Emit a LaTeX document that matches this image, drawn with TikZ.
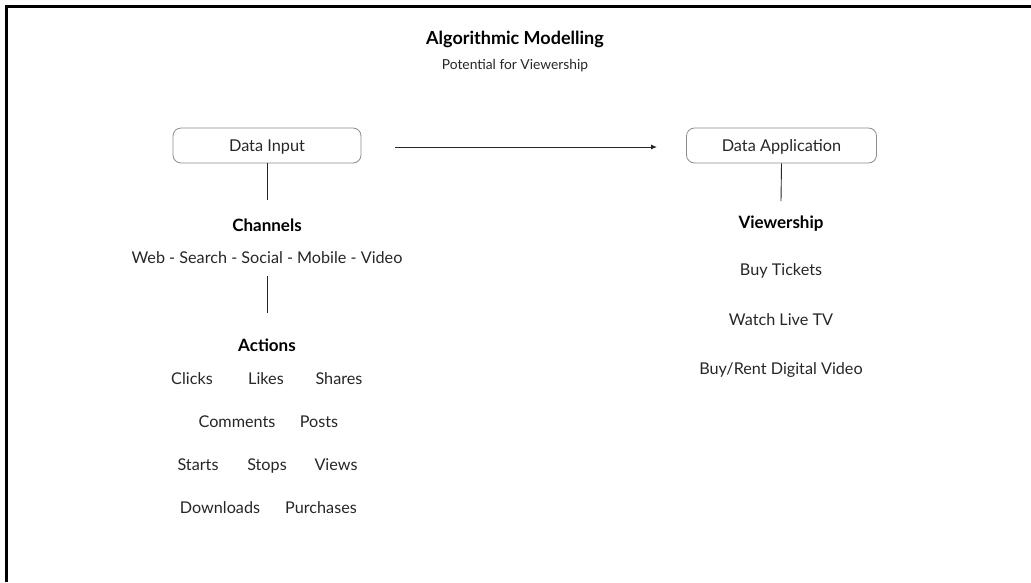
\documentclass[tikz,border=0pt]{standalone}
\usepackage{fontspec}
\setmainfont{Lato}
\usetikzlibrary{arrows.meta}
\tikzset{
  txt/.style={inner sep=0pt, text height=2.2ex, text depth=0.3ex, yshift=-2.5pt},
  box/.style={draw=black!45, line width=0.8pt, rounded corners=8pt, minimum width=188pt, minimum height=35pt, text height=2.4ex, text depth=0.1ex, text=black!85, font=\fontsize{16.3}{18}\selectfont},
  heading/.style={txt, font=\fontsize{17}{19}\selectfont\bfseries},
  item/.style={txt, text=black!85, font=\fontsize{16.2}{18}\selectfont},
  link/.style={draw=black!85, line width=0.9pt},
  frame/.style={line width=3pt, black}
}
\begin{document}
\begin{tikzpicture}[x=1pt,y=-1pt]
\useasboundingbox (0,0) rectangle (1031,582);
% frame on the top and left edges
\draw[frame] (1031,6) -- (6,6) -- (6,582);

% title
\node[txt, font=\fontsize{18}{20}\selectfont\bfseries] (title) at (515,37) {Algorithmic Modelling};
\node[txt, text=black!85, font=\fontsize{13.8}{15}\selectfont] (subtitle) at (515,62) {Potential for Viewership};

% top boxes
\node[box] (input) at (267,145.5) {Data Input};
\node[box, minimum width=190pt] (app) at (781.5,145.5) {Data Application};
\coordinate (arrA) at (395,147);
\coordinate (arrB) at (657,147);
\draw[link, -{Latex[length=6pt,width=5pt]}] (arrA) -- (arrB);

% left branch
\node[heading] (channels) at (267,224) {Channels};
\node[item] (chlist) at (267,256) {Web - Search - Social - Mobile - Video};
\coordinate (inBot) at (267,200);
\draw[link] (input.south) -- (inBot);
\coordinate (chTop) at (267,276);
\coordinate (chBot) at (267,313);
\draw[link] (chTop) -- (chBot);

\node[heading] (actions) at (267,344) {Actions};
\node[item] (clicks) at (192,377) {Clicks};
\node[item] (likes) at (266,377) {Likes};
\node[item] (shares) at (339,377) {Shares};
\node[item] (comments) at (237,420) {Comments};
\node[item] (posts) at (319,420) {Posts};
\node[item] (starts) at (198,463) {Starts};
\node[item] (stops) at (267,463) {Stops};
\node[item] (views) at (336,463) {Views};
\node[item] (downloads) at (220,506) {Downloads};
\node[item] (purchases) at (321,506) {Purchases};

% right branch
\coordinate (appBot) at (781,201);
\draw[link] (app.south) -- (appBot);
\node[heading] (viewership) at (781,221) {Viewership};
\node[item] (tickets) at (781,268) {Buy Tickets};
\node[item] (livetv) at (781,318) {Watch Live TV};
\node[item] (rent) at (781,367) {Buy/Rent Digital Video};
\end{tikzpicture}
\end{document}
